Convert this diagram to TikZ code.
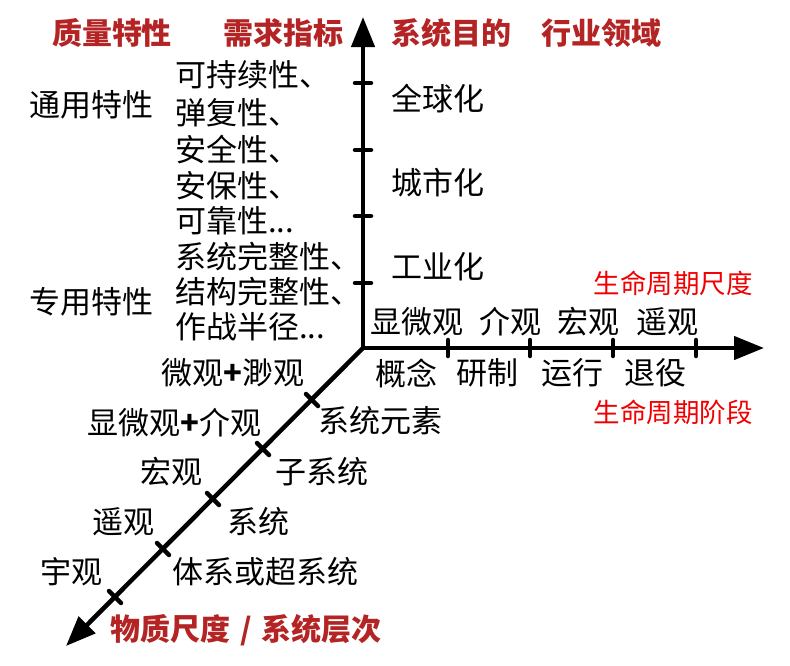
\documentclass[tikz,border=0pt]{standalone}
\usepackage{fontspec}
\usetikzlibrary{arrows.meta}
\newfontfamily\cjk{Noto Sans CJK SC}
\definecolor{headred}{RGB}{180,36,36}
\definecolor{lifered}{RGB}{240,0,0}

\tikzset{
axisline/.style={line width=4.5pt,-{Triangle[length=30pt,width=23pt]}},
tickmark/.style={line width=4.5pt,line cap=round},
lbl/.style={inner sep=0pt,font=\cjk\fontsize{31}{31}\selectfont},
head/.style={lbl,text=headred,font=\cjk\bfseries\fontsize{30}{30}\selectfont},
life/.style={inner sep=0pt,text=lifered,font=\cjk\fontsize{26.5}{26.5}\selectfont}
}

\begin{document}
\begin{tikzpicture}[x=1pt,y=-1pt]
\useasboundingbox (0,0) rectangle (790,665);
% axes
\coordinate (O) at (363,348);
\coordinate (ytip) at (363,17);
\coordinate (xtip) at (764,348);
\coordinate (ztip) at (66,646);
\draw[axisline] (O)--(ytip);
\draw[axisline] (O)--(xtip);
\draw[axisline] (O)--(ztip);
\foreach \y in {83,150,216,283} \draw[tickmark] (355,\y)--(371,\y);
\foreach \x in {448,530,613,696} \draw[tickmark] (\x,340)--(\x,356);
\foreach \x/\y in {312/400,263/449,213/499,163/549,115/597}
  \draw[tickmark] (\x-6,\y-6)--(\x+6,\y+6);

% headings
\node[head] (quality) at (112,33) {质量特性};
\node[head] (demand) at (283,33) {需求指标};
\node[head] (goal) at (451,33) {系统目的};
\node[head] (field) at (601,33) {行业领域};
\node[head,anchor=west] (matter) at (110,630) {物质尺度\,\,/\,\,系统层次};
\node[life] (lifescale) at (673,283) {生命周期尺度};
\node[life] (lifestage) at (673,412) {生命周期阶段};

% quality column
\node[lbl] (general) at (91,105) {通用特性};
\node[lbl] (special) at (91,302) {专用特性};
\node[lbl,anchor=west] (q1) at (175,75) {可持续性、};
\node[lbl,anchor=west] (q2) at (175,113) {弹复性、};
\node[lbl,anchor=west] (q3) at (175,150) {安全性、};
\node[lbl,anchor=west] (q4) at (175,186) {安保性、};
\node[lbl,anchor=west] (q5) at (175,221) {可靠性...};
\node[lbl,anchor=west] (q6) at (175,257) {系统完整性、};
\node[lbl,anchor=west] (q7) at (175,292) {结构完整性、};
\node[lbl,anchor=west] (q8) at (175,327) {作战半径...};

% field axis
\node[lbl,anchor=west] (global) at (391,99) {全球化};
\node[lbl,anchor=west] (urban) at (391,183) {城市化};
\node[lbl,anchor=west] (industry) at (391,267) {工业化};

% life axis
\node[lbl] (micro) at (417,322) {显微观};
\node[lbl] (meso) at (510,322) {介观};
\node[lbl] (macro) at (588,322) {宏观};
\node[lbl] (tele) at (667,322) {遥观};
\node[lbl] (concept) at (406,373) {概念};
\node[lbl] (develop) at (487,373) {研制};
\node[lbl] (operate) at (572,373) {运行};
\node[lbl] (retire) at (655,373) {退役};

% matter axis
\node[lbl,anchor=east] (m1) at (305,373) {微观\textbf{+}渺观};
\node[lbl,anchor=east] (m2) at (262,423) {显微观\textbf{+}介观};
\node[lbl,anchor=east] (m3) at (203,472) {宏观};
\node[lbl,anchor=east] (m4) at (155,522) {遥观};
\node[lbl,anchor=east] (m5) at (103,572) {宇观};
\node[lbl,anchor=west] (s1) at (318,421) {系统元素};
\node[lbl,anchor=west] (s2) at (275,472) {子系统};
\node[lbl,anchor=west] (s3) at (227,522) {系统};
\node[lbl,anchor=west] (s4) at (172,572) {体系或超系统};
\end{tikzpicture}
\end{document}
